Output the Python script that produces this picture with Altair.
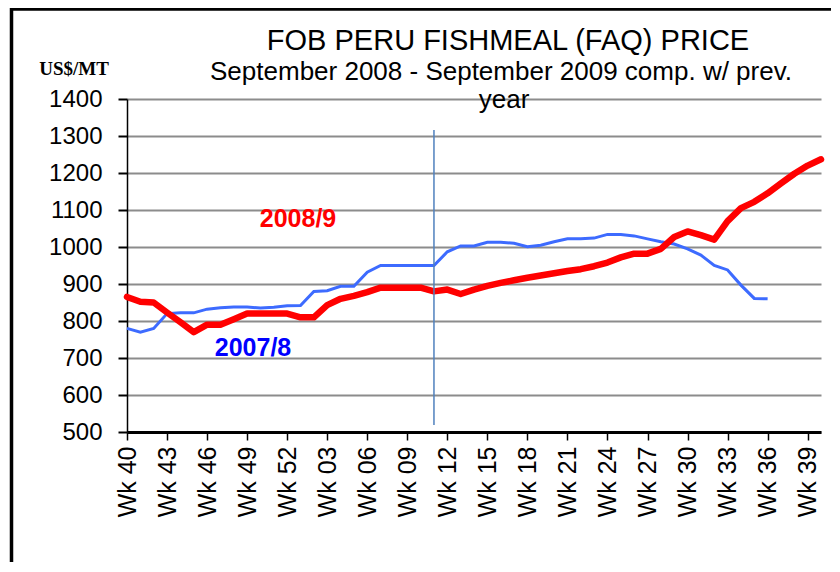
import json
import altair as alt
import pandas as pd

# ---------------- data ----------------
week_labels = [
    "Wk 40", "Wk 41", "Wk 42", "Wk 43", "Wk 44", "Wk 45", "Wk 46", "Wk 47", "Wk 48",
    "Wk 49", "Wk 50", "Wk 51", "Wk 52",
    "Wk 01", "Wk 02", "Wk 03", "Wk 04", "Wk 05", "Wk 06", "Wk 07", "Wk 08", "Wk 09",
    "Wk 10", "Wk 11", "Wk 12", "Wk 13", "Wk 14", "Wk 15", "Wk 16", "Wk 17", "Wk 18",
    "Wk 19", "Wk 20", "Wk 21", "Wk 22", "Wk 23", "Wk 24", "Wk 25", "Wk 26", "Wk 27",
    "Wk 28", "Wk 29", "Wk 30", "Wk 31", "Wk 32", "Wk 33", "Wk 34", "Wk 35", "Wk 36",
    "Wk 37", "Wk 38", "Wk 39", "Wk 40",
]

price_2008_9 = [
    865, 852, 850, 823, 797, 770, 790, 790, 805, 820, 820, 820, 820,
    810, 810, 843, 860, 868, 878, 890, 890, 890, 890, 880, 885, 873,
    885, 895, 903, 910, 917, 923, 929, 935, 940, 948, 958, 972, 982,
    982, 995, 1027, 1042, 1032, 1020, 1070, 1105, 1122, 1145, 1172, 1198, 1220, 1237,
]

price_2007_8 = [
    780, 770, 780, 820, 822, 822, 832, 836, 838, 838, 835, 837, 841,
    842, 880, 882, 894, 894, 932, 950, 950, 950, 950, 950, 987, 1003,
    1003, 1013, 1013, 1010, 1001, 1005, 1014, 1022, 1022, 1024, 1034, 1034, 1030,
    1022, 1014, 1008, 995, 978, 950, 938, 897, 861, 860,
]

y_ticks = [500, 600, 700, 800, 900, 1000, 1100, 1200, 1300, 1400]
x_tick_weeks = ["Wk 40", "Wk 43", "Wk 46", "Wk 49", "Wk 52", "Wk 03", "Wk 06", "Wk 09",
                "Wk 12", "Wk 15", "Wk 18", "Wk 21", "Wk 24", "Wk 27", "Wk 30", "Wk 33",
                "Wk 36", "Wk 39"]

marker_week = "Wk 11"
marker_range = [519, 1316]

title_text = "FOB PERU FISHMEAL (FAQ) PRICE"
subtitle_lines = ["September 2008 - September 2009 comp. w/ prev.", "year"]
unit_text = "US$/MT"
series_names = ["2008/9", "2007/8"]

# ---------------- tables ----------------
idx = list(range(len(week_labels)))
tick_idx = [i for i, w in enumerate(week_labels[:-1]) if w in x_tick_weeks]

red_df = pd.DataFrame({"idx": idx, "value": price_2008_9, "series": series_names[0]})
blue_df = pd.DataFrame({"idx": idx[:len(price_2007_8)], "value": price_2007_8,
                        "series": series_names[1]})
marker_df = pd.DataFrame({"idx": [week_labels.index(marker_week)],
                          "value": [marker_range[0]], "hi": [marker_range[1]]})
one = pd.DataFrame({"k": [0]})

FONT = "Liberation Sans"
W, H = 694, 333

x_scale = alt.Scale(domain=[0, len(week_labels) - 1], nice=False, zero=False)
x_axis = alt.Axis(
    values=tick_idx,
    labelExpr=json.dumps(week_labels) + "[datum.value]",
    labelAngle=270, labelOverlap=False,
    labelFont=FONT, labelFontSize=25, labelColor="black",
    labelPadding=6, tickSize=8, tickColor="black", tickWidth=1.5,
    domainColor="black", domainWidth=3, grid=False, title=None,
)
y_scale = alt.Scale(domain=[500, 1400], nice=False, zero=False)
y_axis = alt.Axis(
    values=y_ticks, format="d", labelOverlap=False, labelFlush=False,
    labelFont=FONT, labelFontSize=24, labelColor="black",
    labelPadding=16, tickSize=9, tickColor="black", tickWidth=2,
    domainColor="black", domainWidth=1.5,
    grid=True, gridColor="#8c8c8c", gridWidth=2, title=None,
)
x_enc = alt.X("idx:Q", scale=x_scale, axis=x_axis)
y_enc = alt.Y("value:Q", scale=y_scale, axis=y_axis)

blue = alt.Chart(blue_df).mark_line(color="#3d6bff", strokeWidth=3).encode(x=x_enc, y=y_enc)
red = alt.Chart(red_df).mark_line(color="#ff0000", strokeWidth=6.5,
                                  strokeJoin="round", strokeCap="round").encode(x=x_enc, y=y_enc)

marker = alt.Chart(marker_df).mark_rule(color="#4f81bd", strokeWidth=1.5).encode(
    x=x_enc, y=y_enc, y2="hi:Q")


def label(text, x, y, size, color="black", weight="normal", font=FONT, align="center"):
    return alt.Chart(one).mark_text(
        text=text, font=font, fontSize=size, color=color, fontWeight=weight,
        align=align, baseline="alphabetic",
    ).encode(x=alt.value(x), y=alt.value(y))


t_title = label(title_text, 381, -49, 29)
t_sub1 = label(subtitle_lines[0], 374, -19, 26)
t_sub2 = label(subtitle_lines[1], 377, 9, 26)
t_unit = label(unit_text, -53, -24, 19, weight="bold", font="Liberation Serif")
t_red = label(series_names[0], 171, 128, 25, color="#ff0000", weight="bold")
t_blue = label(series_names[1], 126, 257, 25, color="#0000ff", weight="bold")

frame_left = alt.Chart(one).mark_rule(color="black", strokeWidth=3.5).encode(
    x=alt.value(-115.5), y=alt.value(-91), y2=alt.value(480))
frame_top = alt.Chart(one).mark_rule(color="black", strokeWidth=3.5).encode(
    x=alt.value(-117), x2=alt.value(720), y=alt.value(-90))

chart = alt.layer(
    blue, red, marker, t_title, t_sub1, t_sub2, t_unit, t_red, t_blue, frame_left, frame_top
).properties(
    width=W, height=H,
    autosize="none",
    padding={"left": 119, "top": 91, "right": 10, "bottom": 130},
    background="white",
).configure_view(strokeWidth=0)

chart.save("out.html", embed_options={"renderer": "svg", "actions": False})
